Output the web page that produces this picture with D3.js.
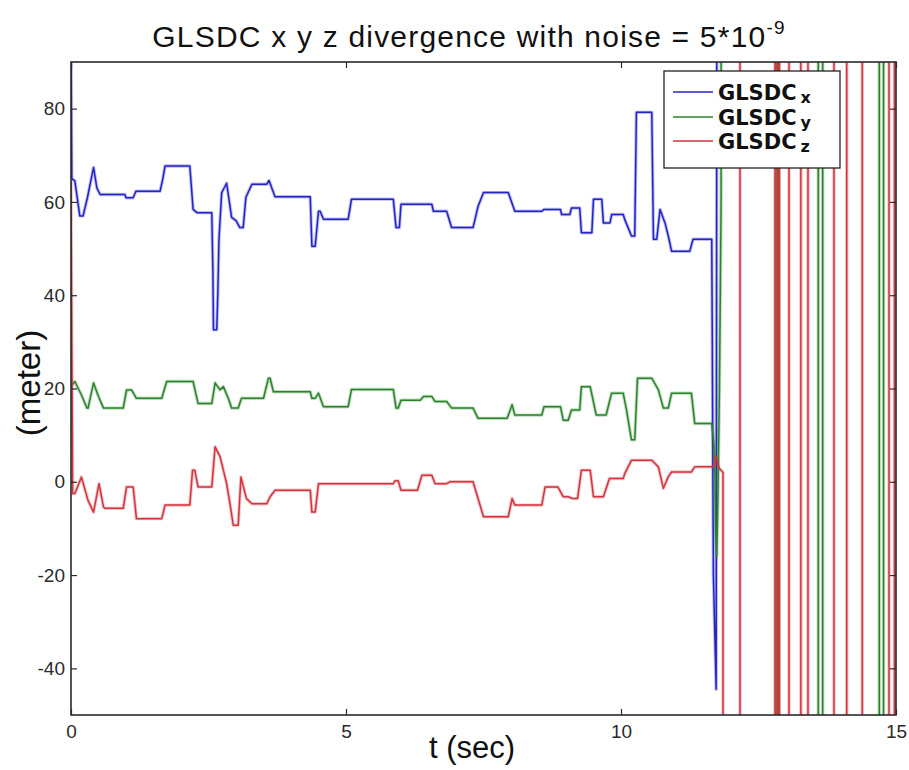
<!DOCTYPE html>
<html>
<head>
<meta charset="utf-8">
<script src="https://cdn.jsdelivr.net/npm/d3@7"></script>
<style>
  html, body { margin: 0; padding: 0; background: #fff; }
  svg { display: block; }
  text { font-family: "Liberation Sans", Arial, sans-serif; }
</style>
</head>
<body>
<svg id="chart" width="909" height="770"></svg>
<script>
// ---------------- data ----------------
const xTicks = [0, 5, 10, 15];
const yTicks = [-40, -20, 0, 20, 40, 60, 80];
const xDomain = [0, 15];
const yDomain = [-50, 90];
const seriesBase = "GLSDC";
const seriesSubs = ["x", "y", "z"];
const seriesColors = ["#2323c8", "#2a852a", "#d3343f"];

// [t (sec), value (meter)]
const glsdcX = [
  [0,95],[0.015,65],[0.07,64.5],[0.16,57],[0.22,57],[0.3,61],[0.41,67.4],[0.47,63],[0.53,61.6],[0.98,61.6],
  [1.0,60.9],[1.13,60.9],[1.18,62.3],[1.62,62.3],[1.67,65],[1.71,67.7],[2.16,67.7],[2.22,58.4],[2.29,57.7],[2.56,57.7],
  [2.58,45],[2.59,32.6],[2.65,32.6],[2.67,40.5],[2.69,52],[2.74,62],[2.83,64],[2.92,56.7],[3.0,56],[3.07,54.5],
  [3.13,54.5],[3.18,61],[3.29,63.8],[3.56,63.8],[3.6,64.6],[3.71,61.1],[4.35,61.1],[4.38,50.5],[4.44,50.5],[4.5,58],
  [4.53,58],[4.59,56.3],[5.04,56.3],[5.1,60.6],[5.86,60.6],[5.91,54.5],[5.97,54.5],[6.0,59.5],[6.56,59.5],[6.59,58],
  [6.83,58],[6.92,54.5],[7.31,54.5],[7.4,59],[7.5,62],[7.95,62],[8.07,58],[8.56,58],[8.6,58.4],[8.9,58.4],
  [8.92,57.3],[9.07,57.3],[9.1,58.7],[9.25,58.7],[9.28,53.4],[9.47,53.4],[9.5,60.6],[9.65,60.6],[9.68,55.5],[9.8,55.5],
  [9.83,57.3],[10.04,57.3],[10.07,56.2],[10.19,52.7],[10.25,52.7],[10.28,79.2],[10.56,79.2],[10.59,52],[10.65,52],[10.71,58.4],
  [10.8,55.5],[10.86,52.7],[10.92,49.4],[11.25,49.4],[11.31,52],[11.65,52],[11.66,30],[11.67,2],[11.68,-20],[11.73,-44.5],
  [11.76,300],[15,300]
];
const glsdcY = [
  [0,20.5],[0.07,21.5],[0.19,18.6],[0.29,15.8],[0.31,15.8],[0.41,21.2],[0.5,18.3],[0.59,15.8],[0.95,15.8],[1.01,19.7],
  [1.1,19.7],[1.19,17.9],[1.65,17.9],[1.74,21.5],[2.22,21.5],[2.31,16.8],[2.56,16.8],[2.62,21.2],[2.71,19.7],[2.77,20.4],
  [2.86,17.9],[2.92,15.8],[3.04,15.8],[3.1,17.9],[3.5,17.9],[3.59,22.2],[3.62,22.2],[3.68,19.3],[4.35,19.3],[4.38,17.9],
  [4.44,17.9],[4.5,19],[4.59,16.1],[5.04,16.1],[5.1,19.8],[5.86,19.8],[5.91,15.8],[5.95,15.8],[6.0,17.5],[6.35,17.5],
  [6.41,18.3],[6.56,18.3],[6.62,17.2],[6.83,17.2],[6.92,15.8],[7.31,15.8],[7.4,13.6],[7.93,13.6],[8.02,16.5],[8.07,14.3],
  [8.56,14.3],[8.6,16.1],[8.9,16.1],[8.95,13.2],[9.04,13.2],[9.1,15.4],[9.25,15.4],[9.28,20.4],[9.44,20.4],[9.55,14.3],
  [9.73,14.3],[9.79,17.2],[9.83,19],[10.04,19],[10.1,15.4],[10.19,9],[10.25,9],[10.3,22.2],[10.56,22.2],[10.68,19.7],
  [10.77,15.8],[10.86,15.8],[10.92,19],[11.28,19],[11.34,12.5],[11.65,12.5],[11.69,8],[11.71,0],[11.72,-10],[11.74,-16],
  [11.76,-5],[11.79,20],[11.82,60],[11.83,1000],[12.82,1000],[12.82,-1000],[12.864,-1000],[12.864,1000],[13.587,1000],[13.587,-1000],
  [13.667,-1000],[13.667,1000],[14.696,1000],[14.696,-1000],[14.773,-1000],[14.773,1000],[15,1000]
];
const glsdcZ = [
  [0,64.5],[0.03,-2.5],[0.07,-2.5],[0.19,1],[0.31,-4],[0.41,-6.5],[0.51,-0.4],[0.59,-5.4],[0.62,-5.7],[0.95,-5.7],
  [1.01,-1.1],[1.13,-1.1],[1.19,-7.9],[1.65,-7.9],[1.71,-5],[2.16,-5],[2.21,2.5],[2.25,2.5],[2.31,-1.1],[2.56,-1.1],
  [2.62,7.5],[2.71,5.4],[2.83,-0.4],[2.89,-4.7],[2.95,-9.3],[3.04,-9.3],[3.09,1],[3.19,-3.6],[3.29,-4.7],[3.56,-4.7],
  [3.62,-3.2],[3.71,-1.8],[4.35,-1.8],[4.38,-6.5],[4.44,-6.5],[4.5,-0.4],[5.86,-0.4],[5.89,0.2],[5.95,0.2],[6.0,-1.8],
  [6.3,-1.8],[6.38,1.4],[6.56,1.4],[6.62,-0.4],[6.83,-0.4],[6.89,0],[7.31,0],[7.5,-7.5],[7.95,-7.5],[8.02,-3.6],
  [8.07,-5],[8.56,-5],[8.62,-1.1],[8.85,-1.1],[8.95,-3.2],[9.04,-3.2],[9.12,-3.6],[9.21,-3.6],[9.28,2.5],[9.44,2.5],
  [9.5,-3.2],[9.68,-3.2],[9.79,0.7],[10.04,0.7],[10.07,1.8],[10.19,4.6],[10.56,4.6],[10.68,3.2],[10.77,-1.4],[10.86,1.1],
  [10.92,2.1],[11.28,2.1],[11.34,3.2],[11.65,3.2],[11.7,3.5],[11.72,5.5],[11.75,4.5],[11.78,3],[11.855,2],[11.855,-1000],
  [12.164,-1000],[12.164,1000],[12.8,1000],[12.8,-1000],[12.845,-1000],[12.845,1000],[12.88,1000],[12.88,-1000],[13.055,-1000],[13.055,1000],
  [13.27,1000],[13.27,-1000],[13.4,-1000],[13.4,1000],[13.873,1000],[13.873,-1000],[14.104,-1000],[14.104,1000],[14.387,1000],[14.387,-1000],
  [14.873,-1000],[14.873,1000],[14.973,1000],[14.973,-1000],[15,-1000]
];
const allSeries = [glsdcX, glsdcY, glsdcZ];

// ---------------- drawing ----------------
const svg = d3.select("#chart");
const plot = { left: 71, right: 896, top: 62, bottom: 715 };

const x = d3.scaleLinear().domain(xDomain).range([plot.left, plot.right]);
const y = d3.scaleLinear().domain(yDomain).range([plot.bottom, plot.top]);

svg.append("defs").append("clipPath").attr("id", "clip")
  .append("rect")
  .attr("x", plot.left).attr("y", plot.top)
  .attr("width", plot.right - plot.left).attr("height", plot.bottom - plot.top);

// series
const line = d3.line().x(d => x(d[0])).y(d => y(d[1]));
const gLines = svg.append("g").attr("clip-path", "url(#clip)");
allSeries.forEach((s, i) => {
  gLines.append("path")
    .datum(s)
    .attr("fill", "none")
    .attr("stroke", seriesColors[i])
    .attr("stroke-opacity", 0.3)
    .attr("stroke-width", 3.4)
    .attr("stroke-linejoin", "round")
    .attr("d", line);
  gLines.append("path")
    .datum(s)
    .attr("fill", "none")
    .attr("stroke", seriesColors[i])
    .attr("stroke-width", 1.5)
    .attr("stroke-linejoin", "round")
    .attr("d", line);
});

// axes (MATLAB-style inward ticks on all sides)
const axisColor = "#2a2a2a";
const plainFmt = d => String(d);
function styleAxis(g) {
  g.select(".domain").remove();
  g.selectAll(".tick line").attr("stroke", axisColor).attr("stroke-width", 1.2);
  g.selectAll(".tick text").attr("fill", "#2a2a2a")
    .style("font-family", "'Liberation Sans', Arial, sans-serif").style("font-size", "19px");
}
svg.append("g").attr("transform", `translate(0,${plot.bottom})`)
  .call(d3.axisBottom(x).tickValues(xTicks).tickSize(-6).tickPadding(10).tickFormat(plainFmt))
  .call(styleAxis);
svg.append("g").attr("transform", `translate(0,${plot.top})`)
  .call(d3.axisTop(x).tickValues(xTicks).tickSize(-6).tickFormat(""))
  .call(styleAxis);
svg.append("g").attr("transform", `translate(${plot.left},0)`)
  .call(d3.axisLeft(y).tickValues(yTicks).tickSize(-6).tickPadding(6).tickFormat(plainFmt))
  .call(styleAxis);
svg.append("g").attr("transform", `translate(${plot.right},0)`)
  .call(d3.axisRight(y).tickValues(yTicks).tickSize(-6).tickFormat(""))
  .call(styleAxis);

// frame
svg.append("rect")
  .attr("x", plot.left).attr("y", plot.top)
  .attr("width", plot.right - plot.left).attr("height", plot.bottom - plot.top)
  .attr("fill", "none").attr("stroke", axisColor).attr("stroke-width", 1.6);

// title
const title = svg.append("text")
  .attr("x", 469).attr("y", 47)
  .attr("text-anchor", "middle")
  .style("font-size", "30px").style("letter-spacing", "1.2px").attr("fill", "#111");
title.append("tspan").text("GLSDC x y z divergence with noise = 5*10");
title.append("tspan").attr("dy", -13).style("font-size", "19px").text("-9");

// axis labels
svg.append("text")
  .attr("x", 472).attr("y", 758)
  .attr("text-anchor", "middle")
  .style("font-size", "31px").attr("fill", "#111")
  .text("t (sec)");
svg.append("text")
  .attr("transform", "translate(40,383) rotate(-90)")
  .attr("text-anchor", "middle")
  .style("font-size", "33px").attr("fill", "#111")
  .text("(meter)");

// legend
const lg = svg.append("g");
lg.append("rect")
  .attr("x", 664).attr("y", 71).attr("width", 176).attr("height", 97)
  .attr("fill", "#fff").attr("stroke", "#222").attr("stroke-width", 1.3);
const rowY = [92, 117, 141];
seriesSubs.forEach((sub, i) => {
  lg.append("line")
    .attr("x1", 673).attr("x2", 713).attr("y1", rowY[i]).attr("y2", rowY[i])
    .attr("stroke", seriesColors[i]).attr("stroke-width", 1.6);
  const t = lg.append("text")
    .attr("x", 718).attr("y", rowY[i] + 8)
    .style("font-family", "'DejaVu Sans', Verdana, sans-serif")
    .style("font-weight", "bold").attr("fill", "#111");
  t.append("tspan").style("font-size", "21px").text(seriesBase);
  t.append("tspan").attr("dx", 4).attr("dy", 3).style("font-size", "16px").text(sub);
});
</script>
</body>
</html>
